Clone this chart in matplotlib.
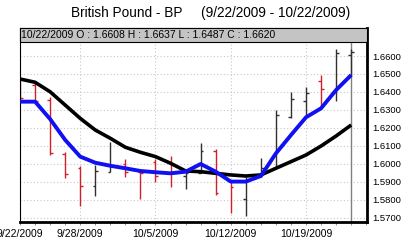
import matplotlib
matplotlib.use('Agg')
import matplotlib.pyplot as plt
from matplotlib.patches import Rectangle
from matplotlib.ticker import MultipleLocator, FormatStrFormatter

# daily OHLC, 9/22/2009 .. 10/22/2009 (trading days)
opens = [1.6420, 1.6440, 1.6355, 1.6055, 1.5975, 1.5878, 1.5957, 1.6000, 1.5955, 1.6010,
         1.6010, 1.5930, 1.5950, 1.6070, 1.5905, 1.5802, 1.5935, 1.5978, 1.6262, 1.6351,
         1.6460, 1.6400, 1.6608]
highs = [1.6460, 1.6457, 1.6373, 1.6067, 1.5988, 1.5993, 1.6123, 1.6025, 1.5956, 1.6025,
         1.6045, 1.5956, 1.6118, 1.6081, 1.5910, 1.5928, 1.6030, 1.6300, 1.6401, 1.6426,
         1.6494, 1.6637, 1.6637]
lows = [1.6340, 1.6346, 1.6049, 1.5923, 1.5767, 1.5823, 1.5953, 1.5928, 1.5803, 1.5901,
        1.5873, 1.5860, 1.5947, 1.5827, 1.5725, 1.5711, 1.5928, 1.5975, 1.6257, 1.6259,
        1.6322, 1.6351, 1.6487]
closes = [1.6365, 1.6352, 1.6060, 1.5942, 1.5878, 1.5962, 1.5990, 1.5953, 1.5948, 1.5934,
          1.5947, 1.5950, 1.6071, 1.5839, 1.5870, 1.5905, 1.5975, 1.6272, 1.6359, 1.6395,
          1.6418, 1.6618, 1.6620]

# moving averages
ma_long = [1.6472, 1.6454, 1.6401, 1.6327, 1.6253, 1.6188, 1.6142, 1.6092, 1.6064, 1.6040,
           1.6003, 1.5960, 1.5956, 1.5947, 1.5938, 1.5932, 1.5938, 1.5975, 1.6012, 1.6049,
           1.6099, 1.6155, 1.6216]
ma_short = [1.6346, 1.6346, 1.6249, 1.6133, 1.6040, 1.6006, 1.5989, 1.5975, 1.5960, 1.5953,
            1.5947, 1.5956, 1.5999, 1.5956, 1.5901, 1.5901, 1.5932, 1.6058, 1.6160, 1.6259,
            1.6309, 1.6411, 1.6494]

date_pos = [0, 4, 9, 14, 19]
date_labels = ['9/22/2009', '9/28/2009', '10/5/2009', '10/12/2009', '10/19/2009']
price_ticks = [1.57, 1.58, 1.59, 1.60, 1.61, 1.62, 1.63, 1.64, 1.65, 1.66]
header = '10/22/2009 O : 1.6608 H : 1.6637 L : 1.6487 C : 1.6620'

plt.rcParams['font.family'] = ['Liberation Sans', 'DejaVu Sans']

fig = plt.figure(figsize=(4.02, 2.41), dpi=100)
fig.text(0.523, 0.946, 'British Pound - BP     (9/22/2009 - 10/22/2009)',
         ha='center', va='center', fontsize=9.8)

ax = fig.add_axes([20/402, 19/241, 347/402, 194/241])
n = len(opens)
days = list(range(n))

ax.grid(True, color='#c8c8c8', linestyle=(0, (1, 2)), linewidth=0.8)
ax.set_axisbelow(True)

tick = 0.18
for i in days:
    col = '#d0202a' if closes[i] < opens[i] else '#303030'
    ax.vlines(i, lows[i], highs[i], color=col, linewidth=1.0, zorder=2)
    ax.hlines(opens[i], i - tick, i, color=col, linewidth=1.0, zorder=2)
    ax.hlines(closes[i], i, i + tick, color=col, linewidth=1.0, zorder=2)

ax.plot(days, ma_long, color='black', linewidth=2.6, zorder=3, solid_capstyle='butt')
ax.plot(days, ma_short, color='#1010f0', linewidth=2.8, zorder=4, solid_capstyle='butt')
ax.axvline(n - 1, color='#808080', linewidth=1.0, zorder=1)

ax.set_xlim(0, 23.05)
ax.set_ylim(1.5676, 1.6756)
ax.set_xticks(date_pos)
ax.set_xticklabels(date_labels, fontsize=7.5)
ax.xaxis.set_minor_locator(MultipleLocator(1))
ax.tick_params(axis='x', which='both', length=2, width=0.6, pad=3, color='#808080')
ax.set_yticks(price_ticks)
ax.yaxis.set_major_formatter(FormatStrFormatter('%.4f'))
ax.yaxis.tick_right()
ax.tick_params(axis='y', length=0, labelsize=6.8, pad=4)

for s in ['left', 'top']:
    ax.spines[s].set_linewidth(0.8)
for s in ['right', 'bottom']:
    ax.spines[s].set_linewidth(2.0)

# header strip
ax.add_patch(Rectangle((0, 1 - 14/194), 1, 14/194, transform=ax.transAxes,
                       facecolor='#c4c4c4', edgecolor='black', linewidth=0.8,
                       zorder=5, clip_on=False))
ax.text(0.004, 1 - 7/194, header, transform=ax.transAxes, ha='left', va='center',
        fontsize=7.5, zorder=6)

fig.savefig('out.png', dpi=100)
